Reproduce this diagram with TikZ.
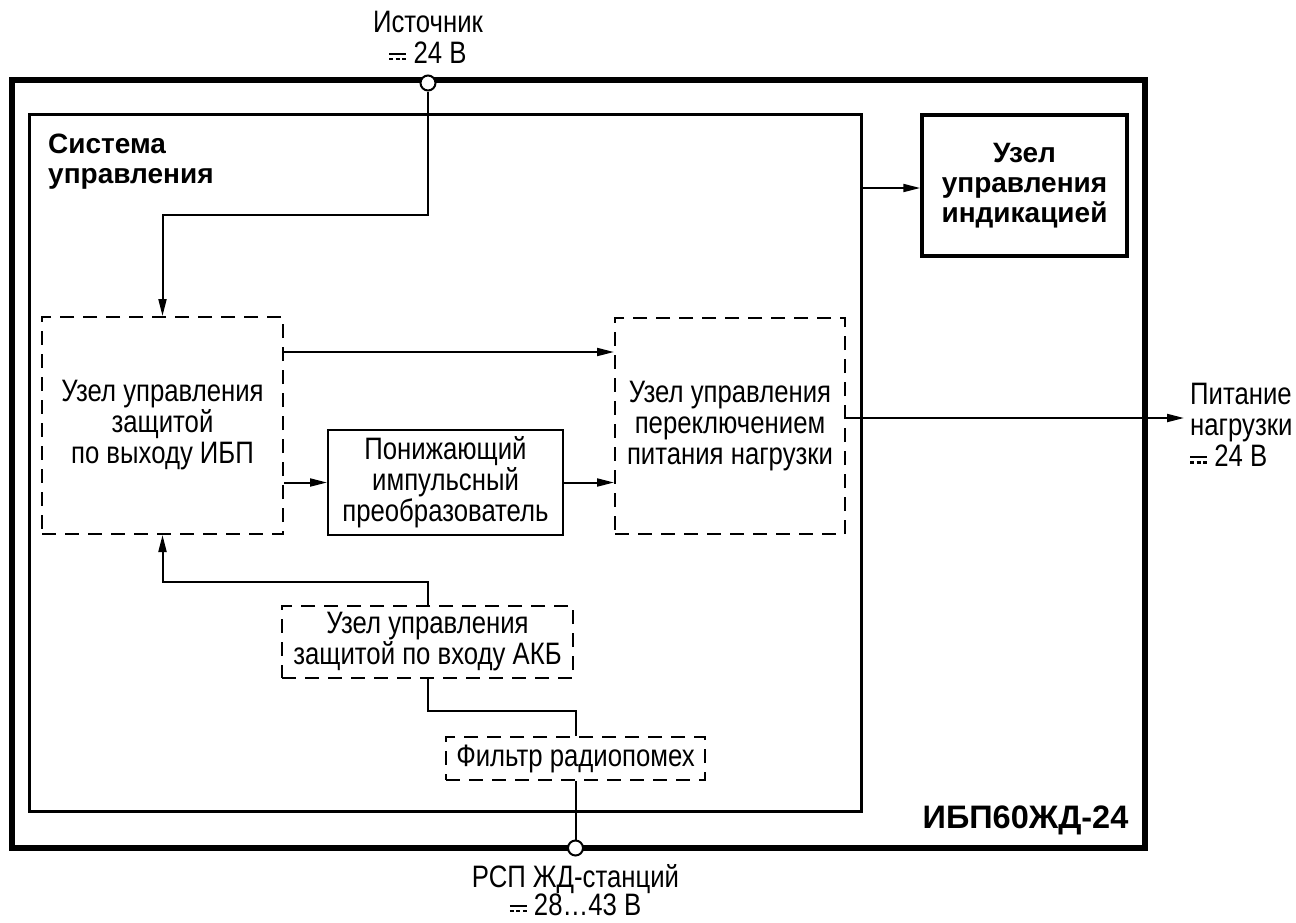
\documentclass[tikz,border=0pt]{standalone}
\usepackage{fontspec}
\setmainfont{Liberation Sans}[FakeStretch=0.83]
\newfontfamily\headfont{Liberation Sans}
\usetikzlibrary{arrows.meta}

% DC sign: solid line over dashed line
\newcommand{\dcsign}{\raisebox{0.1em}{\vbox{\hrule width 0.55em height 0.07em\vskip 0.1em
  \hbox to 0.55em{\vrule width 0.13em height 0.07em depth 0pt\hfil
  \vrule width 0.13em height 0.07em depth 0pt\hfil
  \vrule width 0.13em height 0.07em depth 0pt}}}}
\newcommand{\bodysize}{\fontsize{31}{31}\selectfont}
\newcommand{\headsize}{\headfont\bfseries\fontsize{28}{30}\selectfont}

\begin{document}
\begin{tikzpicture}[x=1pt, y=-1pt,
    unit/.style={draw, line width=2pt, dash pattern=on 14pt off 9pt, align=center, inner sep=0pt, font=\bodysize},
    block/.style={draw, line width=2pt, align=center, inner sep=0pt, font=\bodysize},
    label/.style={align=center, inner sep=0pt, font=\bodysize},
    heading/.style={align=left, inner sep=0pt, font=\headsize},
    terminal/.style={draw, circle, line width=2pt, fill=white, minimum size=15pt, inner sep=0pt},
    arr/.style={line width=2pt, -{Triangle[length=17pt, width=8pt]}},
    wire/.style={line width=2pt}]
    \useasboundingbox (0,0) rectangle (1296,922);

    % housings
    \node [draw, line width=5.5pt, minimum width=1133pt, minimum height=768pt] (ups) at (578.5,464) {};
    \node [draw, line width=3pt, minimum width=832pt, minimum height=697pt] (sys) at (445,462.5) {};
    \node [heading, anchor=north west] (systxt) at (48,134) {Система\\управления};
    \node [draw, line width=3.5pt, minimum width=205pt, minimum height=141pt, align=center, font=\headsize] (ind) at (1024.5,185.5) {Узел\\управления\\индикацией};
    \node [inner sep=0pt, font=\headfont\bfseries\fontsize{32.5}{33}\selectfont, anchor=base] (model) at (1025.5,828) {ИБП60ЖД-24};

    % units
    \node [unit, minimum width=241pt, minimum height=217pt] (prot) at (162.5,425.5) {Узел управления\\защитой\\по выходу ИБП};
    \node [unit, minimum width=230pt, minimum height=216pt] (switch) at (730,426) {Узел управления\\переключением\\питания нагрузки};
    \node [block, minimum width=235pt, minimum height=105pt] (buck) at (445.5,482.5) {Понижающий\\импульсный\\преобразователь};
    \node [unit, minimum width=291pt, minimum height=72pt] (akb) at (427.5,642) {Узел управления\\защитой по входу АКБ};
    \node [unit, minimum width=259pt, minimum height=43pt] (filter) at (575.5,758.5) {Фильтр радиопомех};

    % terminals and their labels
    \node [terminal] (src) at (428,83) {};
    \node [terminal] (rsp) at (575.5,848) {};
    \node [label] (srctxt) at (428,37) {Источник\\\dcsign\ 24 В};
    \node [label, font=\fontsize{31}{28}\selectfont] (rsptxt) at (575.5,890) {РСП ЖД-станций\\\dcsign\ 28…43 В};
    \node [label, align=left, anchor=west, inner sep=6pt] (loadtxt) at (1184,425) {Питание\\нагрузки\\\dcsign\ 24 В};

    % connections
    \coordinate (srcbend) at (428,215);
    \draw [arr] (src) -- (srcbend) -| (prot.north);
    \draw [arr] (prot.east |- 0,352) -- (switch.west |- 0,352);
    \draw [arr] (prot.east |- buck.west) -- (buck.west);
    \draw [arr] (buck.east) -- (switch.west |- buck.east);
    \draw [arr] (switch.east |- 0,418) -- (loadtxt.west |- 0,418);
    \draw [arr] (sys.east |- 0,188) -- (ind.west |- 0,188);
    \draw [arr] (akb.north) -- ++(0,-23) -| (prot.south);
    \draw [wire] (akb.south) -- ++(0,32) -| (filter.north);
    \draw [wire] (filter.south) -- (rsp);
\end{tikzpicture}
\end{document}
